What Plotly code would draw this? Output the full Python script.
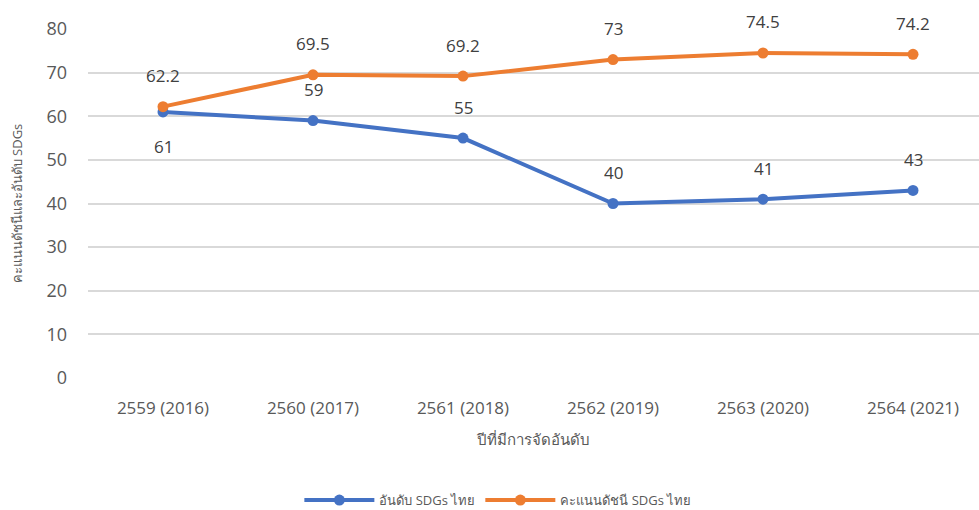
import plotly.graph_objects as go

categories = ["2559 (2016)", "2560 (2017)", "2561 (2018)", "2562 (2019)", "2563 (2020)", "2564 (2021)"]
rank_values = [61, 59, 55, 40, 41, 43]
score_values = [62.2, 69.5, 69.2, 73, 74.5, 74.2]
rank_name = "อันดับ SDGs ไทย"
score_name = "คะแนนดัชนี SDGs ไทย"
y_ticks = [0, 10, 20, 30, 40, 50, 60, 70, 80]
rank_label_below = [True, False, False, False, False, False]

xpos = list(range(len(categories)))
FONT = "Open Sans, Noto Sans, sans-serif"
GREY = "#595959"

fig = go.Figure()
fig.add_trace(go.Scatter(
    x=xpos, y=rank_values, name=rank_name, mode="lines+markers",
    line=dict(color="#4472C4", width=4), marker=dict(size=11, color="#4472C4"),
    cliponaxis=False,
))
fig.add_trace(go.Scatter(
    x=xpos, y=score_values, name=score_name, mode="lines+markers",
    line=dict(color="#ED7D31", width=4), marker=dict(size=11, color="#ED7D31"),
    cliponaxis=False,
))

for xi, v, below in zip(xpos, rank_values, rank_label_below):
    fig.add_annotation(x=xi, y=v, text=str(v), showarrow=False,
                       yshift=-35 if below else 31,
                       font=dict(size=17, color="#404040", family=FONT))
for xi, v in zip(xpos, score_values):
    fig.add_annotation(x=xi, y=v, text=str(v), showarrow=False, yshift=31,
                       font=dict(size=17, color="#404040", family=FONT))

fig.update_layout(
    width=979, height=510,
    margin=dict(l=88, r=0, t=29, b=132, autoexpand=False),
    paper_bgcolor="white", plot_bgcolor="white",
    font=dict(family=FONT, color=GREY),
    showlegend=True,
    legend=dict(orientation="h", x=0.46, xanchor="center", y=-0.35, yanchor="middle",
                font=dict(size=13, color=GREY), itemwidth=70, tracegroupgap=40),
    xaxis=dict(
        range=[-0.5, 5.44], tickmode="array", tickvals=xpos, ticktext=categories,
        tickfont=dict(size=17, color=GREY), showgrid=False, zeroline=False,
        showline=False, ticks="", ticklabelstandoff=18, automargin=False,
        title=dict(text="ปีที่มีการจัดอันดับ", font=dict(size=15, color=GREY), standoff=16),
    ),
    yaxis=dict(
        range=[0, 80], tickmode="array", tickvals=y_ticks,
        tickfont=dict(size=18, color=GREY), showgrid=True, gridcolor="#D9D9D9",
        gridwidth=1.5, zeroline=False, showline=False, ticks="", ticklabelstandoff=20,
        automargin=False,
        title=dict(text="คะแนนดัชนีและอันดับ SDGs", font=dict(size=13, color=GREY), standoff=20),
    ),
)

fig.write_html("out.html")
